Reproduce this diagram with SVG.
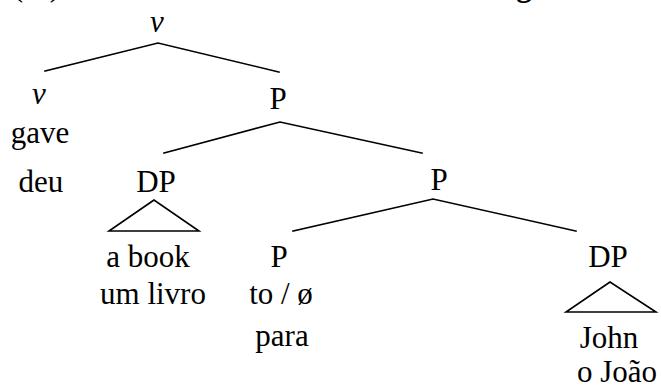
<svg xmlns="http://www.w3.org/2000/svg" width="661" height="388" viewBox="0 0 661 388">
  <style>
    .t { font-family: 'Liberation Serif', 'DejaVu Serif', serif; font-size: 31px; fill: #000; text-anchor: middle; }
    .it { font-style: italic; }
    .edge { stroke: #000; stroke-width: 1.6; fill: none; stroke-linecap: square; }
  </style>
  <rect width="661" height="388" fill="#fff"/>

  <!-- heading line, cut off at the top edge -->
  <g id="heading" class="t" font-family="Liberation Serif, serif">
    <text x="18" y="-4">(</text>
    <text x="55" y="-4">)</text>
    <text x="524" y="-4" font-weight="bold">g</text>
  </g>

  <!-- branches and triangles -->
  <g id="connectors">
    <polyline class="edge" points="45,71 158,43 279,72"/>
    <polyline class="edge" points="164,153 280,122 422,153"/>
    <polyline class="edge" points="293,231 433,199 576,231"/>
    <polygon class="edge" points="154,200 109,231 199,231"/>
    <polygon class="edge" points="610,282 566,312 656,312"/>
  </g>

  <g id="vP-root" class="t" font-family="Liberation Serif, serif"><text class="it" x="157" y="32">v</text></g>

  <g id="v-head" class="t" font-family="Liberation Serif, serif">
    <text class="it" x="39" y="104">v</text>
    <text x="40" y="143">gave</text>
    <text x="41" y="192">deu</text>
  </g>

  <g id="P-upper" class="t" font-family="Liberation Serif, serif"><text x="278" y="109">P</text></g>

  <g id="DP-theme" class="t" font-family="Liberation Serif, serif">
    <text x="156" y="192">DP</text>
    <text x="148" y="267">a book</text>
    <text x="153" y="304">um livro</text>
  </g>

  <g id="P-mid" class="t" font-family="Liberation Serif, serif"><text x="439" y="190">P</text></g>

  <g id="P-head" class="t" font-family="Liberation Serif, serif">
    <text x="279" y="267">P</text>
    <text x="281" y="304">to / ø</text>
    <text x="282" y="346">para</text>
  </g>

  <g id="DP-goal" class="t" font-family="Liberation Serif, serif">
    <text x="608" y="267">DP</text>
    <text x="609" y="348">John</text>
    <text x="617" y="382">o João</text>
  </g>
</svg>
